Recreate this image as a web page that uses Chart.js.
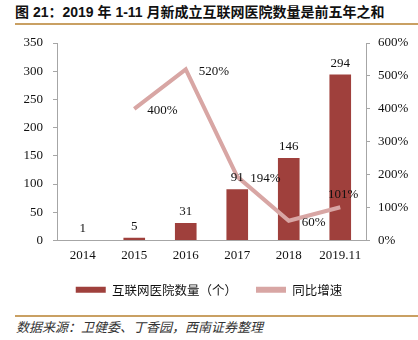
<!DOCTYPE html>
<html lang="zh-CN">
<head>
    <meta charset="UTF-8" />
    <title>互联网医院数量</title>
    <script src="https://cdn.jsdelivr.net/npm/chart.js"></script>
    <style>
        body { margin: 0; width: 418px; height: 340px; background: #fff; position: relative; overflow: hidden; }
        #titulo { position: absolute; left: 15px; top: 3px; font: bold 14px "Liberation Sans", "Noto Sans CJK SC", sans-serif; color: #111; white-space: nowrap; line-height: 18px; }
        .linha { position: absolute; left: 15px; right: 0; height: 2px; background: #c9a063; }
        #grafico { position: absolute; left: 0; top: 30px; width: 418px; height: 280px; }
        #fonte { position: absolute; left: 16px; top: 319px; font: italic 13px "Noto Sans CJK SC", sans-serif; color: #333; white-space: nowrap; line-height: 16px; }
    </style>
</head>

<body>
    <div id="titulo">图 21：2019 年 1-11 月新成立互联网医院数量是前五年之和</div>
    <div class="linha" style="top:23px"></div>
    <div id="grafico"><canvas id="c"></canvas></div>
    <div class="linha" style="top:315px"></div>
    <div id="fonte">数据来源：卫健委、丁香园，西南证券整理</div>

    <script>
        // dados
        const anos = ['2014', '2015', '2016', '2017', '2018', '2019.11'];
        const hospitais = [1, 5, 31, 91, 146, 294];
        const crescimento = [null, 400, 520, 194, 60, 101];
        const ticksEsq = [0, 50, 100, 150, 200, 250, 300, 350];
        const ticksDir = [0, 100, 200, 300, 400, 500, 600];

        const corBarra = '#9f403c';
        const corLinha = '#d8a6a4';

        Chart.defaults.font.family = '"Liberation Serif", "Noto Sans CJK SC", serif';
        Chart.defaults.font.size = 13;
        Chart.defaults.color = '#111';

        // rótulos de valor
        const rotulos = {
            id: 'rotulos',
            afterDatasetsDraw(chart) {
                const ctx = chart.ctx;
                ctx.save();
                ctx.font = '13px "Liberation Serif", serif';
                ctx.fillStyle = '#111';

                const barras = chart.getDatasetMeta(0);
                ctx.textAlign = 'center';
                ctx.textBaseline = 'bottom';
                barras.data.forEach(function (el, i) {
                    ctx.fillText(String(hospitais[i]), el.x, el.y - 5);
                });

                const linha = chart.getDatasetMeta(1);
                linha.data.forEach(function (el, i) {
                    if (crescimento[i] == null) return;
                    const txt = crescimento[i] + '%';
                    if (i === anos.length - 1) {
                        ctx.textAlign = 'center';
                        ctx.textBaseline = 'bottom';
                        ctx.fillText(txt, el.x + 3, el.y - 6);
                    } else {
                        ctx.textAlign = 'left';
                        ctx.textBaseline = 'middle';
                        ctx.fillText(txt, el.x + 13, el.y + 2);
                    }
                });
                ctx.restore();
            }
        };

        new Chart(document.getElementById('c'), {
            type: 'bar',
            data: {
                labels: anos,
                datasets: [{
                    label: '互联网医院数量（个）',
                    data: hospitais,
                    backgroundColor: corBarra,
                    borderColor: corBarra,
                    barPercentage: 0.84,
                    categoryPercentage: 0.5,
                    yAxisID: 'y',
                    order: 1
                }, {
                    type: 'line',
                    label: '同比增速',
                    data: crescimento,
                    borderColor: corLinha,
                    backgroundColor: corLinha,
                    borderWidth: 4,
                    pointRadius: 0,
                    tension: 0,
                    yAxisID: 'y1',
                    order: 0
                }]
            },
            plugins: [rotulos],
            options: {
                responsive: true,
                maintainAspectRatio: false,
                animation: false,
                layout: { padding: { top: 13, left: 0, right: 0, bottom: 4 } },
                plugins: {
                    tooltip: { enabled: false },
                    legend: {
                        position: 'bottom',
                        labels: {
                            boxWidth: 30,
                            boxHeight: 6,
                            padding: 19,
                            font: { size: 12.5, family: '"Noto Sans CJK SC", sans-serif' },
                            sort: function (a, b) { return a.datasetIndex - b.datasetIndex; },
                            generateLabels: function (chart) {
                                const itens = Chart.defaults.plugins.legend.labels.generateLabels(chart);
                                itens.forEach(function (it) {
                                    it.lineWidth = 0;
                                    it.fillStyle = it.strokeStyle;
                                });
                                return itens;
                            }
                        }
                    }
                },
                scales: {
                    x: {
                        grid: { display: false, drawTicks: false },
                        border: { display: true, color: '#a6a6a6' },
                        ticks: { padding: 7 },
                        afterFit: function (s) { s.height = 24; }
                    },
                    y: {
                        min: 0,
                        max: 350,
                        afterBuildTicks: function (s) { s.ticks = ticksEsq.map(function (v) { return { value: v }; }); },
                        grid: { drawOnChartArea: false, tickLength: 4, color: '#a6a6a6' },
                        border: { color: '#a6a6a6' },
                        ticks: { padding: 10 },
                        afterFit: function (s) { s.width = 57; s.paddingTop = 0; }
                    },
                    y1: {
                        position: 'right',
                        min: 0,
                        max: 600,
                        afterBuildTicks: function (s) { s.ticks = ticksDir.map(function (v) { return { value: v }; }); },
                        grid: { drawOnChartArea: false, tickLength: 4, color: '#a6a6a6' },
                        border: { color: '#a6a6a6' },
                        ticks: { padding: 8, callback: function (v) { return v + '%'; } },
                        afterFit: function (s) { s.width = 52; s.paddingTop = 0; }
                    }
                }
            }
        });
    </script>
</body>
</html>
